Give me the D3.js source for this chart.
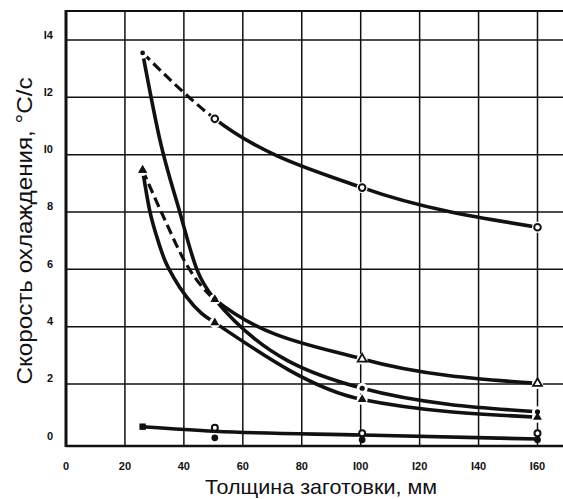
<!DOCTYPE html>
<html><head><meta charset="utf-8">
<script src="https://cdn.jsdelivr.net/npm/d3@7"></script>
<style>body{margin:0;background:#fff;}svg{display:block;}</style>
</head><body><svg id="c" width="563" height="499"></svg>
<script>
// ---- data ----
const thickness = [26, 50.5, 100.5, 160];          // mm, measured points
const seriesA = [13.55, 11.25, 8.85, 7.47];         // open circles (first segment dashed)
const seriesB = [13.55, 4.95, 1.85, 1.03];          // filled dots
const seriesC = [9.46, 4.14, 1.46, 0.84];           // filled triangles
const seriesD = [9.46, 4.95, 2.87, 2.02];           // open triangles (first segment dashed)
const seriesE = [0.51, 0.35, 0.22, 0.08];           // square start, bottom line
const thicknessLow = [50.5, 100.5, 160];
const seriesF = [0.47, 0.28, 0.28];                 // upper small marks near zero
const seriesG = [0.12, 0.05, 0.05];                 // lower small marks near zero
// extra points read along the hand-drawn curves between 25 and 50 mm
const traceBx = [31.9, 38.6, 44.4];
const traceBy = [10.5, 8.0, 6.0];
const traceCx = [28.5, 30.8, 33.6, 36.4, 40.9, 46];
const traceCy = [8.0, 7.14, 6.3, 5.74, 5.04, 4.46];
const traceDx = [33, 41];
const traceDy = [7.85, 6.15];
const xTicks = [0, 20, 40, 60, 80, 100, 120, 140, 160];
const xTickLabels = ["0", "20", "40", "60", "80", "I00", "I20", "I40", "I60"];
const yTicks = [0, 2, 4, 6, 8, 10, 12, 14];
const yTickLabels = ["0", "2", "4", "6", "8", "I0", "I2", "I4"];
const xTitle = "Толщина заготовки, мм";
const yTitle = "Скорость охлаждения, °С/с";

(function () {
const svg = d3.select("#c");
const x = d3.scaleLinear().domain([0, 160]).range([66, 537.5]);
const y = d3.scaleLinear().domain([0, 14]).range([441.3, 40]);
const pLeft = 66, pRight = 563, pTop = 11, pBottom = 446;
const ink = "#111";

// grid
svg.append("g").selectAll("line").data(xTicks.slice(1)).join("line")
  .attr("x1", d => x(d)).attr("x2", d => x(d)).attr("y1", pTop).attr("y2", pBottom)
  .attr("stroke", ink).attr("stroke-width", 1.5);
svg.append("g").selectAll("line").data(yTicks.slice(1)).join("line")
  .attr("x1", pLeft).attr("x2", pRight).attr("y1", d => y(d)).attr("y2", d => y(d))
  .attr("stroke", ink).attr("stroke-width", 1.5);
// frame
svg.append("line").attr("x1", pLeft).attr("x2", pLeft).attr("y1", pTop - 1).attr("y2", pBottom + 1)
  .attr("stroke", ink).attr("stroke-width", 3);
svg.append("line").attr("x1", pLeft).attr("x2", pRight).attr("y1", pTop).attr("y2", pTop)
  .attr("stroke", ink).attr("stroke-width", 2.2);
svg.append("line").attr("x1", pLeft).attr("x2", pRight).attr("y1", pBottom).attr("y2", pBottom)
  .attr("stroke", ink).attr("stroke-width", 2.6);

// tick labels
svg.append("g").selectAll("text").data(yTicks).join("text")
  .attr("x", 53).attr("y", d => y(d) - 5.5).attr("text-anchor", "end").attr("dominant-baseline", "central")
  .attr("font-family", "Liberation Sans, Arial, sans-serif").attr("font-weight", "bold").attr("font-size", 11)
  .attr("fill", ink).text((d, i) => yTickLabels[i]);
svg.append("g").selectAll("text").data(xTicks).join("text")
  .attr("x", d => x(d)).attr("y", 466).attr("text-anchor", "middle").attr("dominant-baseline", "central")
  .attr("font-family", "Liberation Sans, Arial, sans-serif").attr("font-weight", "bold").attr("font-size", 11)
  .attr("fill", ink).text((d, i) => xTickLabels[i]);

// titles
svg.append("text").attr("x", 321).attr("y", 494).attr("text-anchor", "middle")
  .attr("font-family", "Liberation Sans, Arial, sans-serif").attr("font-size", 21)
  .attr("textLength", 232).attr("lengthAdjust", "spacingAndGlyphs").attr("fill", ink).text(xTitle);
svg.append("text").attr("transform", "translate(32,231) rotate(-90)").attr("text-anchor", "middle")
  .attr("font-family", "Liberation Sans, Arial, sans-serif").attr("font-size", 22)
  .attr("textLength", 307).attr("lengthAdjust", "spacingAndGlyphs").attr("fill", ink).text(yTitle);

// clip paths for dashed first segment
const defs = svg.append("defs");
defs.append("clipPath").attr("id", "clipL").append("rect")
  .attr("x", 0).attr("y", 0).attr("width", x(thickness[1])).attr("height", 499);
defs.append("clipPath").attr("id", "clipR").append("rect")
  .attr("x", x(thickness[1])).attr("y", 0).attr("width", 563).attr("height", 499);

const line = d3.line().x(d => x(d[0])).y(d => y(d[1])).curve(d3.curveMonotoneX);
const pts = (xs, ys) => xs.map((v, i) => [v, ys[i]]);
const merged = (xs, ys, tx, ty) => pts(xs, ys).concat(pts(tx, ty)).sort((a, b) => a[0] - b[0]);

function drawCurve(p, dashedFirst) {
  if (dashedFirst) {
    svg.append("path").attr("d", line(p)).attr("fill", "none").attr("stroke", ink)
      .attr("stroke-width", 3.2).attr("stroke-dasharray", "10,5").attr("clip-path", "url(#clipL)");
    svg.append("path").attr("d", line(p)).attr("fill", "none").attr("stroke", ink)
      .attr("stroke-width", 3.6).attr("clip-path", "url(#clipR)");
  } else {
    svg.append("path").attr("d", line(p)).attr("fill", "none").attr("stroke", ink)
      .attr("stroke-width", 3.6);
  }
}
drawCurve(pts(thickness, seriesA), true);
drawCurve(merged(thickness, seriesB, traceBx, traceBy), false);
drawCurve(merged(thickness, seriesC, traceCx, traceCy), false);
drawCurve(merged(thickness, seriesD, traceDx, traceDy), true);
drawCurve(pts(thickness, seriesE), false);

// halos (gaps around markers)
const allMarks = [
  ...pts(thickness, seriesA), ...pts(thickness, seriesB), ...pts(thickness, seriesC), ...pts(thickness, seriesD)
];
svg.append("g").selectAll("circle").data(allMarks).join("circle")
  .attr("cx", d => x(d[0])).attr("cy", d => y(d[1])).attr("r", 5.5).attr("fill", "#fff");

const tri = d3.symbol().type(d3.symbolTriangle).size(34);
// series A: dot first then open circles
svg.append("g").selectAll("circle").data(pts(thickness, seriesA)).join("circle")
  .attr("cx", d => x(d[0])).attr("cy", d => y(d[1]))
  .attr("r", (d, i) => i === 0 ? 2.4 : 3.3)
  .attr("fill", (d, i) => i === 0 ? ink : "#fff").attr("stroke", ink).attr("stroke-width", (d, i) => i === 0 ? 0 : 2);
// series B: filled dots
svg.append("g").selectAll("circle").data(pts(thickness, seriesB).slice(1)).join("circle")
  .attr("cx", d => x(d[0])).attr("cy", d => y(d[1])).attr("r", 2.6).attr("fill", ink);
// series C: filled triangles
svg.append("g").selectAll("path").data(pts(thickness, seriesC)).join("path")
  .attr("d", tri).attr("transform", d => `translate(${x(d[0])},${y(d[1])})`).attr("fill", ink);
// series D: filled then open triangles
svg.append("g").selectAll("path").data(pts(thickness, seriesD)).join("path")
  .attr("d", tri).attr("transform", d => `translate(${x(d[0])},${y(d[1])})`)
  .attr("fill", (d, i) => i < 2 ? ink : "#fff").attr("stroke", ink).attr("stroke-width", (d, i) => i < 2 ? 0 : 1.8);
// series E: square first
svg.append("rect").attr("x", x(thickness[0]) - 3.2).attr("y", y(seriesE[0]) - 3.2)
  .attr("width", 6.4).attr("height", 6.4).attr("fill", ink);
// small marks near zero
svg.append("g").selectAll("circle").data(pts(thicknessLow, seriesF)).join("circle")
  .attr("cx", d => x(d[0])).attr("cy", d => y(d[1])).attr("r", 3).attr("fill", "#fff").attr("stroke", ink).attr("stroke-width", 2);
svg.append("g").selectAll("circle").data(pts(thicknessLow, seriesG)).join("circle")
  .attr("cx", d => x(d[0])).attr("cy", d => y(d[1])).attr("r", 3.4).attr("fill", ink);
})();
</script></body></html>
